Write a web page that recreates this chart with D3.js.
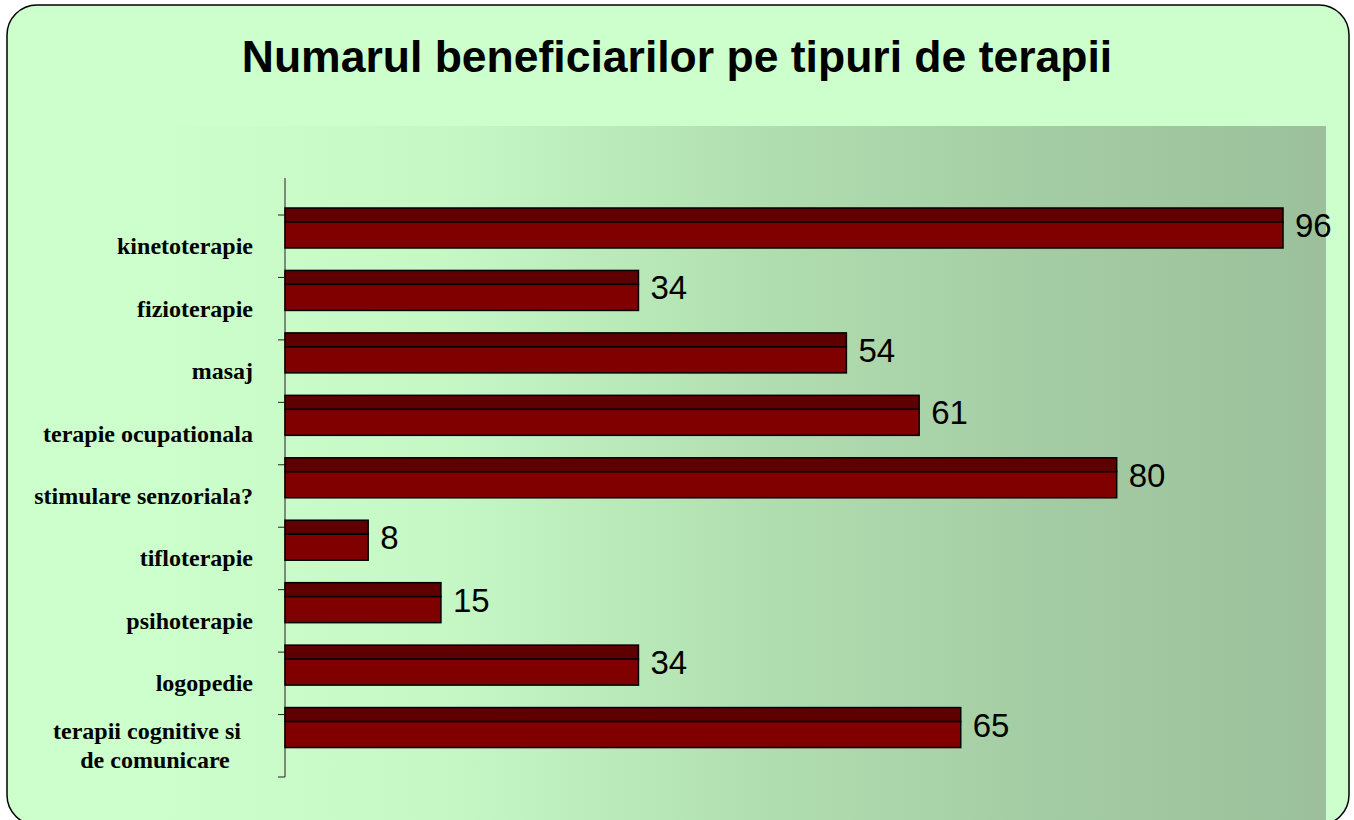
<!DOCTYPE html>
<html>
<head>
<meta charset="utf-8">
<script src="https://cdn.jsdelivr.net/npm/d3@7"></script>
<style>
  body { margin: 0; background: #fff; }
  svg { display: block; }
</style>
</head>
<body>
<svg id="chart" width="1354" height="820"></svg>
<script>
const titleText = 'Numarul beneficiarilor pe tipuri de terapii';
const categories = [
  'kinetoterapie', 'fizioterapie', 'masaj', 'terapie ocupationala',
  'stimulare senzoriala?', 'tifloterapie', 'psihoterapie', 'logopedie',
  'terapii cognitive si\nde comunicare'
];
const values = [96, 34, 54, 61, 80, 8, 15, 34, 65];

const svg = d3.select('#chart');
const defs = svg.append('defs');

const grad = defs.append('linearGradient')
  .attr('id', 'plotBg')
  .attr('x1', '0%').attr('x2', '100%').attr('y1', '0%').attr('y2', '0%');
grad.append('stop').attr('offset', '0%').attr('stop-color', '#ccffcc');
grad.append('stop').attr('offset', '25%').attr('stop-color', '#c6f8c6');
grad.append('stop').attr('offset', '50%').attr('stop-color', '#b2e0b2');
grad.append('stop').attr('offset', '76%').attr('stop-color', '#a4cca4');
grad.append('stop').attr('offset', '100%').attr('stop-color', '#9bc09b');

// outer frame
svg.append('rect')
  .attr('x', 7).attr('y', 5)
  .attr('width', 1342).attr('height', 820)
  .attr('rx', 30).attr('ry', 30)
  .attr('fill', '#ccffcc');

// plot background
svg.append('rect')
  .attr('x', 145).attr('y', 126)
  .attr('width', 1181).attr('height', 694)
  .attr('fill', 'url(#plotBg)');

svg.append('rect')
  .attr('x', 7).attr('y', 5)
  .attr('width', 1342).attr('height', 820)
  .attr('rx', 30).attr('ry', 30)
  .attr('fill', 'none')
  .attr('stroke', '#000').attr('stroke-width', 1.5);

svg.append('text')
  .attr('x', 677).attr('y', 72)
  .attr('text-anchor', 'middle')
  .style('font-family', 'Liberation Sans, Arial, sans-serif')
  .style('font-weight', 'bold')
  .style('font-size', '44.5px')
  .text(titleText);

const x0 = 285;
const x = d3.scaleLinear().domain([0, 100]).range([x0, x0 + 1039.6]);
const y = d3.scaleBand().domain(categories).range([215, 777]).padding(0);

// axis
const g = svg.append('g');
g.append('line')
  .attr('x1', x0).attr('x2', x0).attr('y1', 178).attr('y2', 777)
  .attr('stroke', '#222').attr('stroke-width', 1);
const boundaries = categories.map(c => y(c)).concat([777]);
g.selectAll('.tick').data(boundaries).enter().append('line')
  .attr('x1', x0 - 7).attr('x2', x0)
  .attr('y1', d => d).attr('y2', d => d)
  .attr('stroke', '#222').attr('stroke-width', 1);

// bars: darker top strip + front face
const bars = svg.append('g').selectAll('g').data(categories).enter().append('g');
bars.append('rect')
  .attr('x', x0)
  .attr('y', d => y(d) - 7)
  .attr('width', (d, i) => x(values[i]) - x0)
  .attr('height', 14)
  .attr('fill', '#5f0000')
  .attr('stroke', '#000').attr('stroke-width', 1.5);
bars.append('rect')
  .attr('x', x0)
  .attr('y', d => y(d) + 7)
  .attr('width', (d, i) => x(values[i]) - x0)
  .attr('height', 26)
  .attr('fill', '#800000')
  .attr('stroke', '#000').attr('stroke-width', 1.5);

// value labels
bars.append('text')
  .attr('x', (d, i) => x(values[i]) + 12)
  .attr('y', d => y(d) + 22)
  .style('font-family', 'Liberation Sans, Arial, sans-serif')
  .style('font-size', '33px')
  .text((d, i) => values[i]);

// category labels
const lineShift = [-3, 5];
svg.append('g').selectAll('text').data(categories).enter().append('text')
  .each(function (d) {
    const t = d3.select(this);
    const lines = d.split('\n');
    const cy = y(d) + y.bandwidth() / 2;
    t.style('font-family', 'Liberation Serif, Times New Roman, serif')
      .style('font-weight', 'bold')
      .style('font-size', '24px');
    if (lines.length === 1) {
      t.attr('x', 253).attr('y', cy + 8).attr('text-anchor', 'end').text(d);
    } else {
      t.attr('text-anchor', 'middle');
      lines.forEach((ln, k) => {
        t.append('tspan')
          .attr('x', 150 + lineShift[k])
          .attr('y', cy + 8 + (k - (lines.length - 1) / 2) * 29)
          .text(ln);
      });
    }
  });
</script>
</body>
</html>
